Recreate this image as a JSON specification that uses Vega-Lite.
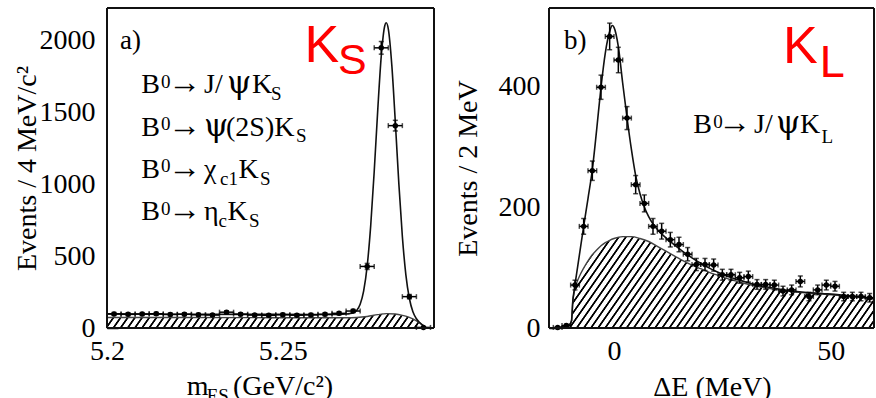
{
  "$schema": "https://vega.github.io/schema/vega-lite/v6.json",
  "autosize": {"type": "pad"},
  "padding": {"left": 13, "top": 7, "right": 0, "bottom": 0},
  "background": "white",
  "bounds": "flush",
  "spacing": 115,
  "config": {
    "view": {"stroke": null},
    "font": "Liberation Serif",
    "text": {"color": "#000", "font": "Liberation Serif"},
    "axis": {"labelFont": "Liberation Serif", "labelFontSize": 28, "labelColor": "#000", "titleFont": "Liberation Serif", "titleFontSize": 28, "titleFontWeight": "normal", "titleColor": "#000", "domain": false, "grid": false, "tickColor": "#000", "tickWidth": 1.5, "labelFlush": false, "labelOverlap": false, "zindex": 1}
  },
  "datasets": {
    "ptsL": [
      {"m":5.202,"n":98,"lo":88,"hi":108,"m0":5.200,"m1":5.204},
      {"m":5.206,"n":95,"lo":85,"hi":105,"m0":5.204,"m1":5.208},
      {"m":5.210,"n":97,"lo":87,"hi":107,"m0":5.208,"m1":5.212},
      {"m":5.214,"n":99,"lo":89,"hi":109,"m0":5.212,"m1":5.216},
      {"m":5.218,"n":94,"lo":84,"hi":104,"m0":5.216,"m1":5.220},
      {"m":5.222,"n":96,"lo":86,"hi":106,"m0":5.220,"m1":5.224},
      {"m":5.226,"n":92,"lo":82,"hi":102,"m0":5.224,"m1":5.228},
      {"m":5.230,"n":90,"lo":81,"hi":99,"m0":5.228,"m1":5.232},
      {"m":5.234,"n":110,"lo":100,"hi":120,"m0":5.232,"m1":5.236},
      {"m":5.238,"n":96,"lo":86,"hi":106,"m0":5.236,"m1":5.240},
      {"m":5.242,"n":90,"lo":81,"hi":99,"m0":5.240,"m1":5.244},
      {"m":5.246,"n":88,"lo":79,"hi":97,"m0":5.244,"m1":5.248},
      {"m":5.250,"n":92,"lo":82,"hi":102,"m0":5.248,"m1":5.252},
      {"m":5.254,"n":89,"lo":80,"hi":98,"m0":5.252,"m1":5.256},
      {"m":5.258,"n":91,"lo":81,"hi":101,"m0":5.256,"m1":5.260},
      {"m":5.262,"n":95,"lo":85,"hi":105,"m0":5.260,"m1":5.264},
      {"m":5.266,"n":102,"lo":92,"hi":112,"m0":5.264,"m1":5.268},
      {"m":5.270,"n":118,"lo":107,"hi":129,"m0":5.268,"m1":5.272},
      {"m":5.274,"n":428,"lo":407,"hi":449,"m0":5.272,"m1":5.276},
      {"m":5.278,"n":1948,"lo":1904,"hi":1992,"m0":5.276,"m1":5.280},
      {"m":5.282,"n":1407,"lo":1370,"hi":1444,"m0":5.280,"m1":5.284},
      {"m":5.286,"n":218,"lo":203,"hi":233,"m0":5.284,"m1":5.288},
      {"m":5.290,"n":4,"lo":2,"hi":6,"m0":5.288,"m1":5.292}
    ],
    "fitL": [
      {"m":5.200,"t":98},{"m":5.220,"t":96},{"m":5.240,"t":95},{"m":5.260,"t":94},{"m":5.266,"t":95},
      {"m":5.268,"t":97},{"m":5.269,"t":100},{"m":5.270,"t":106},{"m":5.271,"t":122},{"m":5.272,"t":165},
      {"m":5.273,"t":258},{"m":5.274,"t":432},{"m":5.275,"t":712},{"m":5.276,"t":1090},{"m":5.277,"t":1515},
      {"m":5.278,"t":1890},{"m":5.279,"t":2102},{"m":5.2794,"t":2122},{"m":5.280,"t":2080},{"m":5.281,"t":1828},
      {"m":5.282,"t":1432},{"m":5.283,"t":1004},{"m":5.284,"t":636},{"m":5.285,"t":370},{"m":5.286,"t":205},
      {"m":5.287,"t":113},{"m":5.288,"t":64},{"m":5.289,"t":36},{"m":5.290,"t":15},{"m":5.2905,"t":5},{"m":5.291,"t":0}
    ],
    "bkgL": [
      {"m":5.200,"b":73},{"m":5.220,"b":73},{"m":5.240,"b":72},{"m":5.260,"b":71},{"m":5.268,"b":71},
      {"m":5.271,"b":73},{"m":5.274,"b":80},{"m":5.277,"b":93},{"m":5.2795,"b":100},{"m":5.282,"b":97},
      {"m":5.284,"b":88},{"m":5.286,"b":74},{"m":5.287,"b":63},{"m":5.288,"b":50},{"m":5.289,"b":35},
      {"m":5.290,"b":17},{"m":5.2905,"b":6},{"m":5.291,"b":0},{"m":5.293,"b":0}
    ],
    "ptsR": [
      {"e":-13,"n":1,"lo":0,"hi":2,"e0":-14,"e1":-12},
      {"e":-11,"n":4,"lo":2,"hi":6,"e0":-12,"e1":-10},
      {"e":-9,"n":71,"lo":63,"hi":79,"e0":-10,"e1":-8},
      {"e":-7,"n":168,"lo":155,"hi":181,"e0":-8,"e1":-6},
      {"e":-5,"n":260,"lo":244,"hi":276,"e0":-6,"e1":-4},
      {"e":-3,"n":398,"lo":378,"hi":418,"e0":-4,"e1":-2},
      {"e":-1,"n":482,"lo":460,"hi":504,"e0":-2,"e1":0},
      {"e":1,"n":443,"lo":422,"hi":464,"e0":0,"e1":2},
      {"e":3,"n":347,"lo":328,"hi":366,"e0":2,"e1":4},
      {"e":5,"n":237,"lo":222,"hi":252,"e0":4,"e1":6},
      {"e":7,"n":206,"lo":192,"hi":220,"e0":6,"e1":8},
      {"e":9,"n":168,"lo":155,"hi":181,"e0":8,"e1":10},
      {"e":11,"n":160,"lo":147,"hi":173,"e0":10,"e1":12},
      {"e":13,"n":146,"lo":134,"hi":158,"e0":12,"e1":14},
      {"e":15,"n":138,"lo":126,"hi":150,"e0":14,"e1":16},
      {"e":17,"n":122,"lo":111,"hi":133,"e0":16,"e1":18},
      {"e":19,"n":105,"lo":95,"hi":115,"e0":18,"e1":20},
      {"e":21,"n":105,"lo":95,"hi":115,"e0":20,"e1":22},
      {"e":23,"n":104,"lo":94,"hi":114,"e0":22,"e1":24},
      {"e":25,"n":88,"lo":79,"hi":97,"e0":24,"e1":26},
      {"e":27,"n":88,"lo":79,"hi":97,"e0":26,"e1":28},
      {"e":29,"n":83,"lo":74,"hi":92,"e0":28,"e1":30},
      {"e":31,"n":85,"lo":76,"hi":94,"e0":30,"e1":32},
      {"e":33,"n":72,"lo":64,"hi":80,"e0":32,"e1":34},
      {"e":35,"n":72,"lo":64,"hi":80,"e0":34,"e1":36},
      {"e":37,"n":71,"lo":63,"hi":79,"e0":36,"e1":38},
      {"e":39,"n":61,"lo":53,"hi":69,"e0":38,"e1":40},
      {"e":41,"n":63,"lo":55,"hi":71,"e0":40,"e1":42},
      {"e":43,"n":77,"lo":68,"hi":86,"e0":42,"e1":44},
      {"e":45,"n":52,"lo":45,"hi":59,"e0":44,"e1":46},
      {"e":47,"n":63,"lo":55,"hi":71,"e0":46,"e1":48},
      {"e":49,"n":71,"lo":63,"hi":79,"e0":48,"e1":50},
      {"e":51,"n":69,"lo":61,"hi":77,"e0":50,"e1":52},
      {"e":53,"n":52,"lo":45,"hi":59,"e0":52,"e1":54},
      {"e":55,"n":52,"lo":45,"hi":59,"e0":54,"e1":56},
      {"e":57,"n":52,"lo":45,"hi":59,"e0":56,"e1":58},
      {"e":59,"n":50,"lo":43,"hi":57,"e0":58,"e1":60}
    ],
    "fitR": [
      {"e":-15,"t":0},{"e":-13,"t":0.5},{"e":-12,"t":1.5},{"e":-11,"t":3},{"e":-10.2,"t":6},{"e":-9.8,"t":12},
      {"e":-9.5,"t":45},{"e":-9.2,"t":62},{"e":-9,"t":72},{"e":-8,"t":120},{"e":-7,"t":168},{"e":-6,"t":214},
      {"e":-5,"t":262},{"e":-4,"t":328},{"e":-3,"t":398},{"e":-2,"t":455},{"e":-1,"t":490},{"e":-0.4,"t":500},
      {"e":0,"t":497},{"e":1,"t":465},{"e":2,"t":405},{"e":3,"t":348},{"e":4,"t":296},{"e":5,"t":252},
      {"e":6,"t":222},{"e":7,"t":200},{"e":8,"t":184},{"e":9,"t":172},{"e":10,"t":163},{"e":12,"t":149},
      {"e":14,"t":137},{"e":16,"t":126},{"e":18,"t":116},{"e":20,"t":107},{"e":22,"t":99},{"e":24,"t":92},
      {"e":26,"t":86},{"e":28,"t":81},{"e":30,"t":77},{"e":33,"t":71},{"e":36,"t":67},{"e":40,"t":62},
      {"e":44,"t":59},{"e":48,"t":57},{"e":52,"t":55},{"e":56,"t":52},{"e":60,"t":49}
    ],
    "bkgR": [
      {"e":-15,"b":0},{"e":-13,"b":0.5},{"e":-12,"b":1.5},{"e":-11,"b":3},{"e":-10.2,"b":6},{"e":-9.8,"b":12},
      {"e":-9.5,"b":45},{"e":-9.2,"b":58},{"e":-9,"b":65},{"e":-8,"b":85},{"e":-7,"b":99},{"e":-6,"b":111},
      {"e":-5,"b":121},{"e":-4,"b":129},{"e":-3,"b":136},{"e":-2,"b":141},{"e":-1,"b":145},{"e":0,"b":148},
      {"e":2,"b":151},{"e":4,"b":151},{"e":6,"b":148},{"e":8,"b":143},{"e":10,"b":135},{"e":12,"b":127},
      {"e":14,"b":119},{"e":16,"b":111},{"e":18,"b":104},{"e":20,"b":98},{"e":22,"b":92},{"e":24,"b":87},
      {"e":26,"b":82},{"e":28,"b":78},{"e":30,"b":74},{"e":33,"b":69},{"e":36,"b":65},{"e":40,"b":61},
      {"e":44,"b":58},{"e":48,"b":56},{"e":52,"b":54},{"e":56,"b":51},{"e":60,"b":48}
    ]
  },
  "hconcat": [
    {
      "width": 327,
      "height": 320,
      "layer": [
        {"data": {"values": [{}]},
         "mark": {"type": "rect", "fill": {
          "gradient": "linear", "x1": 0, "y1": 0, "x2": 1.1459, "y2": 0.7873,
          "stops": [
            {"offset":0,"color":"#fff"},{"offset":0.0015,"color":"#000"},{"offset":0.004,"color":"#000"},{"offset":0.0055,"color":"#fff"},
            {"offset":0.013,"color":"#fff"},{"offset":0.0145,"color":"#000"},{"offset":0.017,"color":"#000"},{"offset":0.0185,"color":"#fff"},
            {"offset":0.026,"color":"#fff"},{"offset":0.0275,"color":"#000"},{"offset":0.03,"color":"#000"},{"offset":0.0315,"color":"#fff"},
            {"offset":0.039,"color":"#fff"},{"offset":0.0405,"color":"#000"},{"offset":0.043,"color":"#000"},{"offset":0.0445,"color":"#fff"},
            {"offset":0.052,"color":"#fff"},{"offset":0.0535,"color":"#000"},{"offset":0.056,"color":"#000"},{"offset":0.0575,"color":"#fff"},
            {"offset":0.065,"color":"#fff"},{"offset":0.0665,"color":"#000"},{"offset":0.069,"color":"#000"},{"offset":0.0705,"color":"#fff"},
            {"offset":0.078,"color":"#fff"},{"offset":0.0795,"color":"#000"},{"offset":0.082,"color":"#000"},{"offset":0.0835,"color":"#fff"},
            {"offset":0.091,"color":"#fff"},{"offset":0.0925,"color":"#000"},{"offset":0.095,"color":"#000"},{"offset":0.0965,"color":"#fff"},
            {"offset":0.104,"color":"#fff"},{"offset":0.1055,"color":"#000"},{"offset":0.108,"color":"#000"},{"offset":0.1095,"color":"#fff"},
            {"offset":0.117,"color":"#fff"},{"offset":0.1185,"color":"#000"},{"offset":0.121,"color":"#000"},{"offset":0.1225,"color":"#fff"},
            {"offset":0.13,"color":"#fff"},{"offset":0.1315,"color":"#000"},{"offset":0.134,"color":"#000"},{"offset":0.1355,"color":"#fff"},
            {"offset":0.143,"color":"#fff"},{"offset":0.1445,"color":"#000"},{"offset":0.147,"color":"#000"},{"offset":0.1485,"color":"#fff"},
            {"offset":0.156,"color":"#fff"},{"offset":0.1575,"color":"#000"},{"offset":0.16,"color":"#000"},{"offset":0.1615,"color":"#fff"},
            {"offset":0.169,"color":"#fff"},{"offset":0.1705,"color":"#000"},{"offset":0.173,"color":"#000"},{"offset":0.1745,"color":"#fff"},
            {"offset":0.182,"color":"#fff"},{"offset":0.1835,"color":"#000"},{"offset":0.186,"color":"#000"},{"offset":0.1875,"color":"#fff"},
            {"offset":0.195,"color":"#fff"},{"offset":0.1965,"color":"#000"},{"offset":0.199,"color":"#000"},{"offset":0.2005,"color":"#fff"},
            {"offset":0.208,"color":"#fff"},{"offset":0.2095,"color":"#000"},{"offset":0.212,"color":"#000"},{"offset":0.2135,"color":"#fff"},
            {"offset":0.221,"color":"#fff"},{"offset":0.2225,"color":"#000"},{"offset":0.225,"color":"#000"},{"offset":0.2265,"color":"#fff"},
            {"offset":0.234,"color":"#fff"},{"offset":0.2355,"color":"#000"},{"offset":0.238,"color":"#000"},{"offset":0.2395,"color":"#fff"},
            {"offset":0.247,"color":"#fff"},{"offset":0.2485,"color":"#000"},{"offset":0.251,"color":"#000"},{"offset":0.2525,"color":"#fff"},
            {"offset":0.26,"color":"#fff"},{"offset":0.2615,"color":"#000"},{"offset":0.264,"color":"#000"},{"offset":0.2655,"color":"#fff"},
            {"offset":0.273,"color":"#fff"},{"offset":0.2745,"color":"#000"},{"offset":0.277,"color":"#000"},{"offset":0.2785,"color":"#fff"},
            {"offset":0.286,"color":"#fff"},{"offset":0.2875,"color":"#000"},{"offset":0.29,"color":"#000"},{"offset":0.2915,"color":"#fff"},
            {"offset":0.299,"color":"#fff"},{"offset":0.3005,"color":"#000"},{"offset":0.303,"color":"#000"},{"offset":0.3045,"color":"#fff"},
            {"offset":0.312,"color":"#fff"},{"offset":0.3135,"color":"#000"},{"offset":0.316,"color":"#000"},{"offset":0.3175,"color":"#fff"},
            {"offset":0.325,"color":"#fff"},{"offset":0.3265,"color":"#000"},{"offset":0.329,"color":"#000"},{"offset":0.3305,"color":"#fff"},
            {"offset":0.338,"color":"#fff"},{"offset":0.3395,"color":"#000"},{"offset":0.342,"color":"#000"},{"offset":0.3435,"color":"#fff"},
            {"offset":0.351,"color":"#fff"},{"offset":0.3525,"color":"#000"},{"offset":0.355,"color":"#000"},{"offset":0.3565,"color":"#fff"},
            {"offset":0.364,"color":"#fff"},{"offset":0.3655,"color":"#000"},{"offset":0.368,"color":"#000"},{"offset":0.3695,"color":"#fff"},
            {"offset":0.377,"color":"#fff"},{"offset":0.3785,"color":"#000"},{"offset":0.381,"color":"#000"},{"offset":0.3825,"color":"#fff"},
            {"offset":0.39,"color":"#fff"},{"offset":0.3915,"color":"#000"},{"offset":0.394,"color":"#000"},{"offset":0.3955,"color":"#fff"},
            {"offset":0.403,"color":"#fff"},{"offset":0.4045,"color":"#000"},{"offset":0.407,"color":"#000"},{"offset":0.4085,"color":"#fff"},
            {"offset":0.416,"color":"#fff"},{"offset":0.4175,"color":"#000"},{"offset":0.42,"color":"#000"},{"offset":0.4215,"color":"#fff"},
            {"offset":0.429,"color":"#fff"},{"offset":0.4305,"color":"#000"},{"offset":0.433,"color":"#000"},{"offset":0.4345,"color":"#fff"},
            {"offset":0.442,"color":"#fff"},{"offset":0.4435,"color":"#000"},{"offset":0.446,"color":"#000"},{"offset":0.4475,"color":"#fff"},
            {"offset":0.455,"color":"#fff"},{"offset":0.4565,"color":"#000"},{"offset":0.459,"color":"#000"},{"offset":0.4605,"color":"#fff"},
            {"offset":0.468,"color":"#fff"},{"offset":0.4695,"color":"#000"},{"offset":0.472,"color":"#000"},{"offset":0.4735,"color":"#fff"},
            {"offset":0.481,"color":"#fff"},{"offset":0.4825,"color":"#000"},{"offset":0.485,"color":"#000"},{"offset":0.4865,"color":"#fff"},
            {"offset":0.494,"color":"#fff"},{"offset":0.4955,"color":"#000"},{"offset":0.498,"color":"#000"},{"offset":0.4995,"color":"#fff"},
            {"offset":0.507,"color":"#fff"},{"offset":0.5085,"color":"#000"},{"offset":0.511,"color":"#000"},{"offset":0.5125,"color":"#fff"},
            {"offset":0.52,"color":"#fff"},{"offset":0.5215,"color":"#000"},{"offset":0.524,"color":"#000"},{"offset":0.5255,"color":"#fff"},
            {"offset":0.533,"color":"#fff"},{"offset":0.5345,"color":"#000"},{"offset":0.537,"color":"#000"},{"offset":0.5385,"color":"#fff"},
            {"offset":0.546,"color":"#fff"},{"offset":0.5475,"color":"#000"},{"offset":0.55,"color":"#000"},{"offset":0.5515,"color":"#fff"},
            {"offset":0.559,"color":"#fff"},{"offset":0.5605,"color":"#000"},{"offset":0.563,"color":"#000"},{"offset":0.5645,"color":"#fff"},
            {"offset":0.572,"color":"#fff"},{"offset":0.5735,"color":"#000"},{"offset":0.576,"color":"#000"},{"offset":0.5775,"color":"#fff"},
            {"offset":0.585,"color":"#fff"},{"offset":0.5865,"color":"#000"},{"offset":0.589,"color":"#000"},{"offset":0.5905,"color":"#fff"},
            {"offset":0.598,"color":"#fff"},{"offset":0.5995,"color":"#000"},{"offset":0.602,"color":"#000"},{"offset":0.6035,"color":"#fff"},
            {"offset":0.611,"color":"#fff"},{"offset":0.6125,"color":"#000"},{"offset":0.615,"color":"#000"},{"offset":0.6165,"color":"#fff"},
            {"offset":0.624,"color":"#fff"},{"offset":0.6255,"color":"#000"},{"offset":0.628,"color":"#000"},{"offset":0.6295,"color":"#fff"},
            {"offset":0.637,"color":"#fff"},{"offset":0.6385,"color":"#000"},{"offset":0.641,"color":"#000"},{"offset":0.6425,"color":"#fff"},
            {"offset":0.65,"color":"#fff"},{"offset":0.6515,"color":"#000"},{"offset":0.654,"color":"#000"},{"offset":0.6555,"color":"#fff"},
            {"offset":0.663,"color":"#fff"},{"offset":0.6645,"color":"#000"},{"offset":0.667,"color":"#000"},{"offset":0.6685,"color":"#fff"},
            {"offset":0.676,"color":"#fff"},{"offset":0.6775,"color":"#000"},{"offset":0.68,"color":"#000"},{"offset":0.6815,"color":"#fff"},
            {"offset":0.689,"color":"#fff"},{"offset":0.6905,"color":"#000"},{"offset":0.693,"color":"#000"},{"offset":0.6945,"color":"#fff"},
            {"offset":0.702,"color":"#fff"},{"offset":0.7035,"color":"#000"},{"offset":0.706,"color":"#000"},{"offset":0.7075,"color":"#fff"},
            {"offset":0.715,"color":"#fff"},{"offset":0.7165,"color":"#000"},{"offset":0.719,"color":"#000"},{"offset":0.7205,"color":"#fff"},
            {"offset":0.728,"color":"#fff"},{"offset":0.7295,"color":"#000"},{"offset":0.732,"color":"#000"},{"offset":0.7335,"color":"#fff"},
            {"offset":0.741,"color":"#fff"},{"offset":0.7425,"color":"#000"},{"offset":0.745,"color":"#000"},{"offset":0.7465,"color":"#fff"},
            {"offset":0.754,"color":"#fff"},{"offset":0.7555,"color":"#000"},{"offset":0.758,"color":"#000"},{"offset":0.7595,"color":"#fff"},
            {"offset":0.767,"color":"#fff"},{"offset":0.7685,"color":"#000"},{"offset":0.771,"color":"#000"},{"offset":0.7725,"color":"#fff"},
            {"offset":0.78,"color":"#fff"},{"offset":0.7815,"color":"#000"},{"offset":0.784,"color":"#000"},{"offset":0.7855,"color":"#fff"},
            {"offset":0.793,"color":"#fff"},{"offset":0.7945,"color":"#000"},{"offset":0.797,"color":"#000"},{"offset":0.7985,"color":"#fff"},
            {"offset":0.806,"color":"#fff"},{"offset":0.8075,"color":"#000"},{"offset":0.81,"color":"#000"},{"offset":0.8115,"color":"#fff"},
            {"offset":0.819,"color":"#fff"},{"offset":0.8205,"color":"#000"},{"offset":0.823,"color":"#000"},{"offset":0.8245,"color":"#fff"},
            {"offset":0.832,"color":"#fff"},{"offset":0.8335,"color":"#000"},{"offset":0.836,"color":"#000"},{"offset":0.8375,"color":"#fff"},
            {"offset":0.845,"color":"#fff"},{"offset":0.8465,"color":"#000"},{"offset":0.849,"color":"#000"},{"offset":0.8505,"color":"#fff"},
            {"offset":0.858,"color":"#fff"},{"offset":0.8595,"color":"#000"},{"offset":0.862,"color":"#000"},{"offset":0.8635,"color":"#fff"},
            {"offset":0.871,"color":"#fff"},{"offset":0.8725,"color":"#000"},{"offset":0.875,"color":"#000"},{"offset":0.8765,"color":"#fff"},
            {"offset":0.884,"color":"#fff"},{"offset":0.8855,"color":"#000"},{"offset":0.888,"color":"#000"},{"offset":0.8895,"color":"#fff"},
            {"offset":0.897,"color":"#fff"},{"offset":0.8985,"color":"#000"},{"offset":0.901,"color":"#000"},{"offset":0.9025,"color":"#fff"},
            {"offset":0.91,"color":"#fff"},{"offset":0.9115,"color":"#000"},{"offset":0.914,"color":"#000"},{"offset":0.9155,"color":"#fff"},
            {"offset":0.923,"color":"#fff"},{"offset":0.9245,"color":"#000"},{"offset":0.927,"color":"#000"},{"offset":0.9285,"color":"#fff"},
            {"offset":0.936,"color":"#fff"},{"offset":0.9375,"color":"#000"},{"offset":0.94,"color":"#000"},{"offset":0.9415,"color":"#fff"},
            {"offset":0.949,"color":"#fff"},{"offset":0.9505,"color":"#000"},{"offset":0.953,"color":"#000"},{"offset":0.9545,"color":"#fff"},
            {"offset":0.962,"color":"#fff"},{"offset":0.9635,"color":"#000"},{"offset":0.966,"color":"#000"},{"offset":0.9675,"color":"#fff"},
            {"offset":0.975,"color":"#fff"},{"offset":0.9765,"color":"#000"},{"offset":0.979,"color":"#000"},{"offset":0.9805,"color":"#fff"},
            {"offset":0.988,"color":"#fff"},{"offset":0.9895,"color":"#000"},{"offset":0.992,"color":"#000"},{"offset":0.9935,"color":"#fff"},
            {"offset":1,"color":"#fff"}
          ]}},
         "encoding": {"x": {"datum": 5.2, "scale": {"domain": [5.2, 5.293], "nice": false, "zero": false}}, "x2": {"datum": 5.293},
                      "y": {"datum": 0, "scale": {"domain": [0, 2225], "nice": false}}, "y2": {"datum": 2225}}},
        {"data": {"name": "bkgL"}, "mark": {"type": "area", "fill": "white", "interpolate": "monotone"},
         "encoding": {"x": {"field": "m", "type": "quantitative", "scale": {"domain": [5.2, 5.293], "nice": false, "zero": false}},
                      "y": {"field": "b", "type": "quantitative", "scale": {"domain": [0, 2225], "nice": false}}, "y2": {"datum": 2225}}},
        {"data": {"name": "bkgL"}, "mark": {"type": "line", "color": "#444", "strokeWidth": 1.4, "interpolate": "monotone"},
         "encoding": {"x": {"field": "m", "type": "quantitative", "scale": {"domain": [5.2, 5.293], "nice": false, "zero": false}},
                      "y": {"field": "b", "type": "quantitative", "scale": {"domain": [0, 2225], "nice": false}}}},
        {"data": {"name": "fitL"}, "mark": {"type": "line", "color": "#111", "strokeWidth": 1.6, "interpolate": "monotone"},
         "encoding": {"x": {"field": "m", "type": "quantitative", "scale": {"domain": [5.2, 5.293], "nice": false, "zero": false}},
                      "y": {"field": "t", "type": "quantitative", "scale": {"domain": [0, 2225], "nice": false}}}},
        {"data": {"name": "ptsL"}, "mark": {"type": "errorbar", "ticks": true, "color": "#000", "thickness": 1.5},
         "encoding": {"x": {"field": "m", "type": "quantitative", "title": null, "scale": {"domain": [5.2, 5.293], "nice": false, "zero": false}},
                      "y": {"field": "lo", "type": "quantitative", "title": "Events / 4 MeV/c²", "scale": {"domain": [0, 2225], "nice": false}}, "y2": {"field": "hi"}}},
        {"data": {"name": "ptsL"}, "mark": {"type": "errorbar", "ticks": true, "color": "#000", "thickness": 1.5},
         "encoding": {"y": {"field": "n", "type": "quantitative", "title": "Events / 4 MeV/c²", "scale": {"domain": [0, 2225], "nice": false}},
                      "x": {"field": "m0", "type": "quantitative", "title": null, "scale": {"domain": [5.2, 5.293], "nice": false, "zero": false}}, "x2": {"field": "m1"}}},
        {"data": {"name": "ptsL"}, "mark": {"type": "point", "filled": true, "color": "#000", "size": 30, "opacity": 1},
         "encoding": {
           "x": {"field": "m", "type": "quantitative", "scale": {"domain": [5.2, 5.293], "nice": false, "zero": false},
                 "axis": {"values": [5.2, 5.25], "format": ".2~f", "tickSize": -9, "labelPadding": 18, "title": null}},
           "y": {"field": "n", "type": "quantitative", "scale": {"domain": [0, 2225], "nice": false},
                 "axis": {"values": [0, 250, 500, 750, 1000, 1250, 1500, 1750, 2000], "format": "d",
                          "labelExpr": "datum.value % 500 === 0 ? datum.label : ''",
                          "tickSize": {"condition": {"test": "datum.value % 500 === 0", "value": -11}, "value": -6},
                          "labelPadding": 23, "title": "Events / 4 MeV/c²", "titleX": -72, "titleY": 160, "titleAlign": "center", "titleBaseline": "alphabetic"}}}},
        {"data": {"values": [{}]}, "mark": {"type": "rule", "color": "#111", "strokeWidth": 2},
         "encoding": {"y": {"datum": 2225, "scale": {"domain": [0, 2225], "nice": false}}}},
        {"data": {"values": [{}]}, "mark": {"type": "rule", "color": "#111", "strokeWidth": 2},
         "encoding": {"y": {"datum": 0, "scale": {"domain": [0, 2225], "nice": false}}}},
        {"data": {"values": [{}]}, "mark": {"type": "rule", "color": "#111", "strokeWidth": 2},
         "encoding": {"x": {"datum": 5.2, "scale": {"domain": [5.2, 5.293], "nice": false, "zero": false}}}},
        {"data": {"values": [{}]}, "mark": {"type": "rule", "color": "#111", "strokeWidth": 2},
         "encoding": {"x": {"datum": 5.293, "scale": {"domain": [5.2, 5.293], "nice": false, "zero": false}}}},
        {"data": {"values": [{}]}, "mark": {"type": "text", "text": "a)", "fontSize": 27, "align": "left", "baseline": "alphabetic"},
         "encoding": {"x": {"datum": 5.2037, "scale": {"domain": [5.2, 5.293], "nice": false, "zero": false}}, "y": {"datum": 1940, "scale": {"domain": [0, 2225], "nice": false}}}},
        {"data": {"values": [{}]}, "mark": {"type": "text", "text": ["B", "B", "B", "B"], "lineHeight": 42.3, "fontSize": 28, "align": "left", "baseline": "alphabetic"},
         "encoding": {"x": {"datum": 5.20973, "scale": {"domain": [5.2, 5.293], "nice": false, "zero": false}}, "y": {"datum": 1632, "scale": {"domain": [0, 2225], "nice": false}}}},
        {"data": {"values": [{}]}, "mark": {"type": "text", "text": ["0", "0", "0", "0"], "lineHeight": 42.3, "fontSize": 19, "align": "left", "baseline": "alphabetic"},
         "encoding": {"x": {"datum": 5.21536, "scale": {"domain": [5.2, 5.293], "nice": false, "zero": false}}, "y": {"datum": 1670, "scale": {"domain": [0, 2225], "nice": false}}}},
        {"data": {"values": [{}]}, "mark": {"type": "text", "text": ["→", "→", "→", "→"], "lineHeight": 42.3, "fontSize": 33, "align": "left", "baseline": "alphabetic"},
         "encoding": {"x": {"datum": 5.21735, "scale": {"domain": [5.2, 5.293], "nice": false, "zero": false}}, "y": {"datum": 1632, "scale": {"domain": [0, 2225], "nice": false}}}},
        {"data": {"values": [{}]}, "mark": {"type": "text", "text": "J/", "fontSize": 28, "align": "left", "baseline": "alphabetic"},
         "encoding": {"x": {"datum": 5.22759, "scale": {"domain": [5.2, 5.293], "nice": false, "zero": false}}, "y": {"datum": 1632, "scale": {"domain": [0, 2225], "nice": false}}}},
        {"data": {"values": [{}]}, "mark": {"type": "text", "text": "ψ", "font": "DejaVu Serif", "fontSize": 31, "align": "left", "baseline": "alphabetic"},
         "encoding": {"x": {"datum": 5.23413, "scale": {"domain": [5.2, 5.293], "nice": false, "zero": false}}, "y": {"datum": 1632, "scale": {"domain": [0, 2225], "nice": false}}}},
        {"data": {"values": [{}]}, "mark": {"type": "text", "text": "K", "fontSize": 28, "align": "left", "baseline": "alphabetic"},
         "encoding": {"x": {"datum": 5.24124, "scale": {"domain": [5.2, 5.293], "nice": false, "zero": false}}, "y": {"datum": 1632, "scale": {"domain": [0, 2225], "nice": false}}}},
        {"data": {"values": [{}]}, "mark": {"type": "text", "text": "S", "fontSize": 19, "align": "left", "baseline": "alphabetic"},
         "encoding": {"x": {"datum": 5.24664, "scale": {"domain": [5.2, 5.293], "nice": false, "zero": false}}, "y": {"datum": 1585, "scale": {"domain": [0, 2225], "nice": false}}}},
        {"data": {"values": [{}]}, "mark": {"type": "text", "text": "ψ", "font": "DejaVu Serif", "fontSize": 31, "align": "left", "baseline": "alphabetic"},
         "encoding": {"x": {"datum": 5.22759, "scale": {"domain": [5.2, 5.293], "nice": false, "zero": false}}, "y": {"datum": 1338, "scale": {"domain": [0, 2225], "nice": false}}}},
        {"data": {"values": [{}]}, "mark": {"type": "text", "text": "(2S)K", "fontSize": 28, "align": "left", "baseline": "alphabetic"},
         "encoding": {"x": {"datum": 5.23385, "scale": {"domain": [5.2, 5.293], "nice": false, "zero": false}}, "y": {"datum": 1338, "scale": {"domain": [0, 2225], "nice": false}}}},
        {"data": {"values": [{}]}, "mark": {"type": "text", "text": "S", "fontSize": 19, "align": "left", "baseline": "alphabetic"},
         "encoding": {"x": {"datum": 5.25375, "scale": {"domain": [5.2, 5.293], "nice": false, "zero": false}}, "y": {"datum": 1291, "scale": {"domain": [0, 2225], "nice": false}}}},
        {"data": {"values": [{}]}, "mark": {"type": "text", "text": ["χ", "η"], "lineHeight": 42.3, "fontSize": 28, "align": "left", "baseline": "alphabetic"},
         "encoding": {"x": {"datum": 5.22759, "scale": {"domain": [5.2, 5.293], "nice": false, "zero": false}}, "y": {"datum": 1043, "scale": {"domain": [0, 2225], "nice": false}}}},
        {"data": {"values": [{}]}, "mark": {"type": "text", "text": "c1", "fontSize": 19, "align": "left", "baseline": "alphabetic"},
         "encoding": {"x": {"datum": 5.23214, "scale": {"domain": [5.2, 5.293], "nice": false, "zero": false}}, "y": {"datum": 996, "scale": {"domain": [0, 2225], "nice": false}}}},
        {"data": {"values": [{}]}, "mark": {"type": "text", "text": "K", "fontSize": 28, "align": "left", "baseline": "alphabetic"},
         "encoding": {"x": {"datum": 5.2374, "scale": {"domain": [5.2, 5.293], "nice": false, "zero": false}}, "y": {"datum": 1043, "scale": {"domain": [0, 2225], "nice": false}}}},
        {"data": {"values": [{}]}, "mark": {"type": "text", "text": "S", "fontSize": 19, "align": "left", "baseline": "alphabetic"},
         "encoding": {"x": {"datum": 5.24352, "scale": {"domain": [5.2, 5.293], "nice": false, "zero": false}}, "y": {"datum": 996, "scale": {"domain": [0, 2225], "nice": false}}}},
        {"data": {"values": [{}]}, "mark": {"type": "text", "text": "c", "fontSize": 19, "align": "left", "baseline": "alphabetic"},
         "encoding": {"x": {"datum": 5.23171, "scale": {"domain": [5.2, 5.293], "nice": false, "zero": false}}, "y": {"datum": 704, "scale": {"domain": [0, 2225], "nice": false}}}},
        {"data": {"values": [{}]}, "mark": {"type": "text", "text": "K", "fontSize": 28, "align": "left", "baseline": "alphabetic"},
         "encoding": {"x": {"datum": 5.23427, "scale": {"domain": [5.2, 5.293], "nice": false, "zero": false}}, "y": {"datum": 751, "scale": {"domain": [0, 2225], "nice": false}}}},
        {"data": {"values": [{}]}, "mark": {"type": "text", "text": "S", "fontSize": 19, "align": "left", "baseline": "alphabetic"},
         "encoding": {"x": {"datum": 5.24039, "scale": {"domain": [5.2, 5.293], "nice": false, "zero": false}}, "y": {"datum": 704, "scale": {"domain": [0, 2225], "nice": false}}}},
        {"data": {"values": [{}]}, "mark": {"type": "text", "text": "K", "font": "Liberation Sans", "fontSize": 52, "color": "#ff0000", "align": "left", "baseline": "alphabetic"},
         "encoding": {"x": {"datum": 5.25617, "scale": {"domain": [5.2, 5.293], "nice": false, "zero": false}}, "y": {"datum": 1852, "scale": {"domain": [0, 2225], "nice": false}}}},
        {"data": {"values": [{}]}, "mark": {"type": "text", "text": "S", "font": "Liberation Sans", "fontSize": 43, "color": "#ff0000", "align": "left", "baseline": "alphabetic"},
         "encoding": {"x": {"datum": 5.26571, "scale": {"domain": [5.2, 5.293], "nice": false, "zero": false}}, "y": {"datum": 1766, "scale": {"domain": [0, 2225], "nice": false}}}},
        {"data": {"values": [{}]}, "mark": {"type": "text", "text": "m", "fontSize": 28, "align": "left", "baseline": "alphabetic"},
         "encoding": {"x": {"datum": 5.22267, "scale": {"domain": [5.2, 5.293], "nice": false, "zero": false}}, "y": {"datum": -466, "scale": {"domain": [0, 2225], "nice": false}}}},
        {"data": {"values": [{}]}, "mark": {"type": "text", "text": "ES", "fontSize": 19, "align": "left", "baseline": "alphabetic"},
         "encoding": {"x": {"datum": 5.22835, "scale": {"domain": [5.2, 5.293], "nice": false, "zero": false}}, "y": {"datum": -515, "scale": {"domain": [0, 2225], "nice": false}}}},
        {"data": {"values": [{}]}, "mark": {"type": "text", "text": "(GeV/c²)", "fontSize": 28, "align": "left", "baseline": "alphabetic"},
         "encoding": {"x": {"datum": 5.23584, "scale": {"domain": [5.2, 5.293], "nice": false, "zero": false}}, "y": {"datum": -466, "scale": {"domain": [0, 2225], "nice": false}}}}
      ]
    },
    {
      "width": 325,
      "height": 320,
      "layer": [
        {"data": {"values": [{}]},
         "mark": {"type": "rect", "fill": {
          "gradient": "linear", "x1": 0, "y1": 0, "x2": 1.1459, "y2": 0.7873,
          "stops": [
            {"offset":0,"color":"#fff"},{"offset":0.0015,"color":"#000"},{"offset":0.004,"color":"#000"},{"offset":0.0055,"color":"#fff"},
            {"offset":0.013,"color":"#fff"},{"offset":0.0145,"color":"#000"},{"offset":0.017,"color":"#000"},{"offset":0.0185,"color":"#fff"},
            {"offset":0.026,"color":"#fff"},{"offset":0.0275,"color":"#000"},{"offset":0.03,"color":"#000"},{"offset":0.0315,"color":"#fff"},
            {"offset":0.039,"color":"#fff"},{"offset":0.0405,"color":"#000"},{"offset":0.043,"color":"#000"},{"offset":0.0445,"color":"#fff"},
            {"offset":0.052,"color":"#fff"},{"offset":0.0535,"color":"#000"},{"offset":0.056,"color":"#000"},{"offset":0.0575,"color":"#fff"},
            {"offset":0.065,"color":"#fff"},{"offset":0.0665,"color":"#000"},{"offset":0.069,"color":"#000"},{"offset":0.0705,"color":"#fff"},
            {"offset":0.078,"color":"#fff"},{"offset":0.0795,"color":"#000"},{"offset":0.082,"color":"#000"},{"offset":0.0835,"color":"#fff"},
            {"offset":0.091,"color":"#fff"},{"offset":0.0925,"color":"#000"},{"offset":0.095,"color":"#000"},{"offset":0.0965,"color":"#fff"},
            {"offset":0.104,"color":"#fff"},{"offset":0.1055,"color":"#000"},{"offset":0.108,"color":"#000"},{"offset":0.1095,"color":"#fff"},
            {"offset":0.117,"color":"#fff"},{"offset":0.1185,"color":"#000"},{"offset":0.121,"color":"#000"},{"offset":0.1225,"color":"#fff"},
            {"offset":0.13,"color":"#fff"},{"offset":0.1315,"color":"#000"},{"offset":0.134,"color":"#000"},{"offset":0.1355,"color":"#fff"},
            {"offset":0.143,"color":"#fff"},{"offset":0.1445,"color":"#000"},{"offset":0.147,"color":"#000"},{"offset":0.1485,"color":"#fff"},
            {"offset":0.156,"color":"#fff"},{"offset":0.1575,"color":"#000"},{"offset":0.16,"color":"#000"},{"offset":0.1615,"color":"#fff"},
            {"offset":0.169,"color":"#fff"},{"offset":0.1705,"color":"#000"},{"offset":0.173,"color":"#000"},{"offset":0.1745,"color":"#fff"},
            {"offset":0.182,"color":"#fff"},{"offset":0.1835,"color":"#000"},{"offset":0.186,"color":"#000"},{"offset":0.1875,"color":"#fff"},
            {"offset":0.195,"color":"#fff"},{"offset":0.1965,"color":"#000"},{"offset":0.199,"color":"#000"},{"offset":0.2005,"color":"#fff"},
            {"offset":0.208,"color":"#fff"},{"offset":0.2095,"color":"#000"},{"offset":0.212,"color":"#000"},{"offset":0.2135,"color":"#fff"},
            {"offset":0.221,"color":"#fff"},{"offset":0.2225,"color":"#000"},{"offset":0.225,"color":"#000"},{"offset":0.2265,"color":"#fff"},
            {"offset":0.234,"color":"#fff"},{"offset":0.2355,"color":"#000"},{"offset":0.238,"color":"#000"},{"offset":0.2395,"color":"#fff"},
            {"offset":0.247,"color":"#fff"},{"offset":0.2485,"color":"#000"},{"offset":0.251,"color":"#000"},{"offset":0.2525,"color":"#fff"},
            {"offset":0.26,"color":"#fff"},{"offset":0.2615,"color":"#000"},{"offset":0.264,"color":"#000"},{"offset":0.2655,"color":"#fff"},
            {"offset":0.273,"color":"#fff"},{"offset":0.2745,"color":"#000"},{"offset":0.277,"color":"#000"},{"offset":0.2785,"color":"#fff"},
            {"offset":0.286,"color":"#fff"},{"offset":0.2875,"color":"#000"},{"offset":0.29,"color":"#000"},{"offset":0.2915,"color":"#fff"},
            {"offset":0.299,"color":"#fff"},{"offset":0.3005,"color":"#000"},{"offset":0.303,"color":"#000"},{"offset":0.3045,"color":"#fff"},
            {"offset":0.312,"color":"#fff"},{"offset":0.3135,"color":"#000"},{"offset":0.316,"color":"#000"},{"offset":0.3175,"color":"#fff"},
            {"offset":0.325,"color":"#fff"},{"offset":0.3265,"color":"#000"},{"offset":0.329,"color":"#000"},{"offset":0.3305,"color":"#fff"},
            {"offset":0.338,"color":"#fff"},{"offset":0.3395,"color":"#000"},{"offset":0.342,"color":"#000"},{"offset":0.3435,"color":"#fff"},
            {"offset":0.351,"color":"#fff"},{"offset":0.3525,"color":"#000"},{"offset":0.355,"color":"#000"},{"offset":0.3565,"color":"#fff"},
            {"offset":0.364,"color":"#fff"},{"offset":0.3655,"color":"#000"},{"offset":0.368,"color":"#000"},{"offset":0.3695,"color":"#fff"},
            {"offset":0.377,"color":"#fff"},{"offset":0.3785,"color":"#000"},{"offset":0.381,"color":"#000"},{"offset":0.3825,"color":"#fff"},
            {"offset":0.39,"color":"#fff"},{"offset":0.3915,"color":"#000"},{"offset":0.394,"color":"#000"},{"offset":0.3955,"color":"#fff"},
            {"offset":0.403,"color":"#fff"},{"offset":0.4045,"color":"#000"},{"offset":0.407,"color":"#000"},{"offset":0.4085,"color":"#fff"},
            {"offset":0.416,"color":"#fff"},{"offset":0.4175,"color":"#000"},{"offset":0.42,"color":"#000"},{"offset":0.4215,"color":"#fff"},
            {"offset":0.429,"color":"#fff"},{"offset":0.4305,"color":"#000"},{"offset":0.433,"color":"#000"},{"offset":0.4345,"color":"#fff"},
            {"offset":0.442,"color":"#fff"},{"offset":0.4435,"color":"#000"},{"offset":0.446,"color":"#000"},{"offset":0.4475,"color":"#fff"},
            {"offset":0.455,"color":"#fff"},{"offset":0.4565,"color":"#000"},{"offset":0.459,"color":"#000"},{"offset":0.4605,"color":"#fff"},
            {"offset":0.468,"color":"#fff"},{"offset":0.4695,"color":"#000"},{"offset":0.472,"color":"#000"},{"offset":0.4735,"color":"#fff"},
            {"offset":0.481,"color":"#fff"},{"offset":0.4825,"color":"#000"},{"offset":0.485,"color":"#000"},{"offset":0.4865,"color":"#fff"},
            {"offset":0.494,"color":"#fff"},{"offset":0.4955,"color":"#000"},{"offset":0.498,"color":"#000"},{"offset":0.4995,"color":"#fff"},
            {"offset":0.507,"color":"#fff"},{"offset":0.5085,"color":"#000"},{"offset":0.511,"color":"#000"},{"offset":0.5125,"color":"#fff"},
            {"offset":0.52,"color":"#fff"},{"offset":0.5215,"color":"#000"},{"offset":0.524,"color":"#000"},{"offset":0.5255,"color":"#fff"},
            {"offset":0.533,"color":"#fff"},{"offset":0.5345,"color":"#000"},{"offset":0.537,"color":"#000"},{"offset":0.5385,"color":"#fff"},
            {"offset":0.546,"color":"#fff"},{"offset":0.5475,"color":"#000"},{"offset":0.55,"color":"#000"},{"offset":0.5515,"color":"#fff"},
            {"offset":0.559,"color":"#fff"},{"offset":0.5605,"color":"#000"},{"offset":0.563,"color":"#000"},{"offset":0.5645,"color":"#fff"},
            {"offset":0.572,"color":"#fff"},{"offset":0.5735,"color":"#000"},{"offset":0.576,"color":"#000"},{"offset":0.5775,"color":"#fff"},
            {"offset":0.585,"color":"#fff"},{"offset":0.5865,"color":"#000"},{"offset":0.589,"color":"#000"},{"offset":0.5905,"color":"#fff"},
            {"offset":0.598,"color":"#fff"},{"offset":0.5995,"color":"#000"},{"offset":0.602,"color":"#000"},{"offset":0.6035,"color":"#fff"},
            {"offset":0.611,"color":"#fff"},{"offset":0.6125,"color":"#000"},{"offset":0.615,"color":"#000"},{"offset":0.6165,"color":"#fff"},
            {"offset":0.624,"color":"#fff"},{"offset":0.6255,"color":"#000"},{"offset":0.628,"color":"#000"},{"offset":0.6295,"color":"#fff"},
            {"offset":0.637,"color":"#fff"},{"offset":0.6385,"color":"#000"},{"offset":0.641,"color":"#000"},{"offset":0.6425,"color":"#fff"},
            {"offset":0.65,"color":"#fff"},{"offset":0.6515,"color":"#000"},{"offset":0.654,"color":"#000"},{"offset":0.6555,"color":"#fff"},
            {"offset":0.663,"color":"#fff"},{"offset":0.6645,"color":"#000"},{"offset":0.667,"color":"#000"},{"offset":0.6685,"color":"#fff"},
            {"offset":0.676,"color":"#fff"},{"offset":0.6775,"color":"#000"},{"offset":0.68,"color":"#000"},{"offset":0.6815,"color":"#fff"},
            {"offset":0.689,"color":"#fff"},{"offset":0.6905,"color":"#000"},{"offset":0.693,"color":"#000"},{"offset":0.6945,"color":"#fff"},
            {"offset":0.702,"color":"#fff"},{"offset":0.7035,"color":"#000"},{"offset":0.706,"color":"#000"},{"offset":0.7075,"color":"#fff"},
            {"offset":0.715,"color":"#fff"},{"offset":0.7165,"color":"#000"},{"offset":0.719,"color":"#000"},{"offset":0.7205,"color":"#fff"},
            {"offset":0.728,"color":"#fff"},{"offset":0.7295,"color":"#000"},{"offset":0.732,"color":"#000"},{"offset":0.7335,"color":"#fff"},
            {"offset":0.741,"color":"#fff"},{"offset":0.7425,"color":"#000"},{"offset":0.745,"color":"#000"},{"offset":0.7465,"color":"#fff"},
            {"offset":0.754,"color":"#fff"},{"offset":0.7555,"color":"#000"},{"offset":0.758,"color":"#000"},{"offset":0.7595,"color":"#fff"},
            {"offset":0.767,"color":"#fff"},{"offset":0.7685,"color":"#000"},{"offset":0.771,"color":"#000"},{"offset":0.7725,"color":"#fff"},
            {"offset":0.78,"color":"#fff"},{"offset":0.7815,"color":"#000"},{"offset":0.784,"color":"#000"},{"offset":0.7855,"color":"#fff"},
            {"offset":0.793,"color":"#fff"},{"offset":0.7945,"color":"#000"},{"offset":0.797,"color":"#000"},{"offset":0.7985,"color":"#fff"},
            {"offset":0.806,"color":"#fff"},{"offset":0.8075,"color":"#000"},{"offset":0.81,"color":"#000"},{"offset":0.8115,"color":"#fff"},
            {"offset":0.819,"color":"#fff"},{"offset":0.8205,"color":"#000"},{"offset":0.823,"color":"#000"},{"offset":0.8245,"color":"#fff"},
            {"offset":0.832,"color":"#fff"},{"offset":0.8335,"color":"#000"},{"offset":0.836,"color":"#000"},{"offset":0.8375,"color":"#fff"},
            {"offset":0.845,"color":"#fff"},{"offset":0.8465,"color":"#000"},{"offset":0.849,"color":"#000"},{"offset":0.8505,"color":"#fff"},
            {"offset":0.858,"color":"#fff"},{"offset":0.8595,"color":"#000"},{"offset":0.862,"color":"#000"},{"offset":0.8635,"color":"#fff"},
            {"offset":0.871,"color":"#fff"},{"offset":0.8725,"color":"#000"},{"offset":0.875,"color":"#000"},{"offset":0.8765,"color":"#fff"},
            {"offset":0.884,"color":"#fff"},{"offset":0.8855,"color":"#000"},{"offset":0.888,"color":"#000"},{"offset":0.8895,"color":"#fff"},
            {"offset":0.897,"color":"#fff"},{"offset":0.8985,"color":"#000"},{"offset":0.901,"color":"#000"},{"offset":0.9025,"color":"#fff"},
            {"offset":0.91,"color":"#fff"},{"offset":0.9115,"color":"#000"},{"offset":0.914,"color":"#000"},{"offset":0.9155,"color":"#fff"},
            {"offset":0.923,"color":"#fff"},{"offset":0.9245,"color":"#000"},{"offset":0.927,"color":"#000"},{"offset":0.9285,"color":"#fff"},
            {"offset":0.936,"color":"#fff"},{"offset":0.9375,"color":"#000"},{"offset":0.94,"color":"#000"},{"offset":0.9415,"color":"#fff"},
            {"offset":0.949,"color":"#fff"},{"offset":0.9505,"color":"#000"},{"offset":0.953,"color":"#000"},{"offset":0.9545,"color":"#fff"},
            {"offset":0.962,"color":"#fff"},{"offset":0.9635,"color":"#000"},{"offset":0.966,"color":"#000"},{"offset":0.9675,"color":"#fff"},
            {"offset":0.975,"color":"#fff"},{"offset":0.9765,"color":"#000"},{"offset":0.979,"color":"#000"},{"offset":0.9805,"color":"#fff"},
            {"offset":0.988,"color":"#fff"},{"offset":0.9895,"color":"#000"},{"offset":0.992,"color":"#000"},{"offset":0.9935,"color":"#fff"},
            {"offset":1,"color":"#fff"}
          ]}},
         "encoding": {"x": {"datum": -15, "scale": {"domain": [-15, 60], "nice": false}}, "x2": {"datum": 60},
                      "y": {"datum": 0, "scale": {"domain": [0, 529], "nice": false}}, "y2": {"datum": 529}}},
        {"data": {"name": "bkgR"}, "mark": {"type": "area", "fill": "white", "interpolate": "monotone"},
         "encoding": {"x": {"field": "e", "type": "quantitative", "scale": {"domain": [-15, 60], "nice": false}},
                      "y": {"field": "b", "type": "quantitative", "scale": {"domain": [0, 529], "nice": false}}, "y2": {"datum": 529}}},
        {"data": {"name": "bkgR"}, "mark": {"type": "line", "color": "#444", "strokeWidth": 1.4, "interpolate": "monotone"},
         "encoding": {"x": {"field": "e", "type": "quantitative", "scale": {"domain": [-15, 60], "nice": false}},
                      "y": {"field": "b", "type": "quantitative", "scale": {"domain": [0, 529], "nice": false}}}},
        {"data": {"name": "fitR"}, "mark": {"type": "line", "color": "#111", "strokeWidth": 1.6, "interpolate": "monotone"},
         "encoding": {"x": {"field": "e", "type": "quantitative", "scale": {"domain": [-15, 60], "nice": false}},
                      "y": {"field": "t", "type": "quantitative", "scale": {"domain": [0, 529], "nice": false}}}},
        {"data": {"name": "ptsR"}, "mark": {"type": "errorbar", "ticks": true, "color": "#000", "thickness": 1.5},
         "encoding": {"x": {"field": "e", "type": "quantitative", "title": "ΔE (MeV)", "scale": {"domain": [-15, 60], "nice": false}},
                      "y": {"field": "lo", "type": "quantitative", "title": "Events / 2 MeV", "scale": {"domain": [0, 529], "nice": false}}, "y2": {"field": "hi"}}},
        {"data": {"name": "ptsR"}, "mark": {"type": "errorbar", "ticks": true, "color": "#000", "thickness": 1.5},
         "encoding": {"y": {"field": "n", "type": "quantitative", "title": "Events / 2 MeV", "scale": {"domain": [0, 529], "nice": false}},
                      "x": {"field": "e0", "type": "quantitative", "title": "ΔE (MeV)", "scale": {"domain": [-15, 60], "nice": false}}, "x2": {"field": "e1"}}},
        {"data": {"name": "ptsR"}, "mark": {"type": "point", "filled": true, "color": "#000", "size": 30, "opacity": 1},
         "encoding": {
           "x": {"field": "e", "type": "quantitative", "scale": {"domain": [-15, 60], "nice": false},
                 "axis": {"values": [0, 50], "format": "d", "tickSize": -9, "labelPadding": 18, "title": "ΔE (MeV)", "titleX": 163, "titleY": 67, "titleAlign": "center", "titleBaseline": "alphabetic"}},
           "y": {"field": "n", "type": "quantitative", "scale": {"domain": [0, 529], "nice": false},
                 "axis": {"values": [0, 100, 200, 300, 400, 500], "format": "d",
                          "labelExpr": "datum.value % 200 === 0 ? datum.label : ''",
                          "tickSize": {"condition": {"test": "datum.value % 200 === 0", "value": -11}, "value": -6},
                          "labelPadding": 20, "title": "Events / 2 MeV", "titleX": -73, "titleY": 160, "titleAlign": "center", "titleBaseline": "alphabetic"}}}},
        {"data": {"values": [{}]}, "mark": {"type": "rule", "color": "#111", "strokeWidth": 2},
         "encoding": {"y": {"datum": 529, "scale": {"domain": [0, 529], "nice": false}}}},
        {"data": {"values": [{}]}, "mark": {"type": "rule", "color": "#111", "strokeWidth": 2},
         "encoding": {"y": {"datum": 0, "scale": {"domain": [0, 529], "nice": false}}}},
        {"data": {"values": [{}]}, "mark": {"type": "rule", "color": "#111", "strokeWidth": 2},
         "encoding": {"x": {"datum": -15, "scale": {"domain": [-15, 60], "nice": false}}}},
        {"data": {"values": [{}]}, "mark": {"type": "rule", "color": "#111", "strokeWidth": 2},
         "encoding": {"x": {"datum": 60, "scale": {"domain": [-15, 60], "nice": false}}}},
        {"data": {"values": [{}]}, "mark": {"type": "text", "text": "b)", "fontSize": 27, "align": "left", "baseline": "alphabetic"},
         "encoding": {"x": {"datum": -11.54, "scale": {"domain": [-15, 60], "nice": false}}, "y": {"datum": 461, "scale": {"domain": [0, 529], "nice": false}}}},
        {"data": {"values": [{}]}, "mark": {"type": "text", "text": "B", "fontSize": 28, "align": "left", "baseline": "alphabetic"},
         "encoding": {"x": {"datum": 18.3, "scale": {"domain": [-15, 60], "nice": false}}, "y": {"datum": 321.9, "scale": {"domain": [0, 529], "nice": false}}}},
        {"data": {"values": [{}]}, "mark": {"type": "text", "text": "0", "fontSize": 19, "align": "left", "baseline": "alphabetic"},
         "encoding": {"x": {"datum": 22.92, "scale": {"domain": [-15, 60], "nice": false}}, "y": {"datum": 331, "scale": {"domain": [0, 529], "nice": false}}}},
        {"data": {"values": [{}]}, "mark": {"type": "text", "text": "→", "fontSize": 33, "align": "left", "baseline": "alphabetic"},
         "encoding": {"x": {"datum": 24.0, "scale": {"domain": [-15, 60], "nice": false}}, "y": {"datum": 321.9, "scale": {"domain": [0, 529], "nice": false}}}},
        {"data": {"values": [{}]}, "mark": {"type": "text", "text": "J/", "fontSize": 28, "align": "left", "baseline": "alphabetic"},
         "encoding": {"x": {"datum": 32.31, "scale": {"domain": [-15, 60], "nice": false}}, "y": {"datum": 321.9, "scale": {"domain": [0, 529], "nice": false}}}},
        {"data": {"values": [{}]}, "mark": {"type": "text", "text": "ψ", "font": "DejaVu Serif", "fontSize": 31, "align": "left", "baseline": "alphabetic"},
         "encoding": {"x": {"datum": 37.38, "scale": {"domain": [-15, 60], "nice": false}}, "y": {"datum": 321.9, "scale": {"domain": [0, 529], "nice": false}}}},
        {"data": {"values": [{}]}, "mark": {"type": "text", "text": "K", "fontSize": 28, "align": "left", "baseline": "alphabetic"},
         "encoding": {"x": {"datum": 42.92, "scale": {"domain": [-15, 60], "nice": false}}, "y": {"datum": 321.9, "scale": {"domain": [0, 529], "nice": false}}}},
        {"data": {"values": [{}]}, "mark": {"type": "text", "text": "L", "fontSize": 19, "align": "left", "baseline": "alphabetic"},
         "encoding": {"x": {"datum": 47.88, "scale": {"domain": [-15, 60], "nice": false}}, "y": {"datum": 305.3, "scale": {"domain": [0, 529], "nice": false}}}},
        {"data": {"values": [{}]}, "mark": {"type": "text", "text": "K", "font": "Liberation Sans", "fontSize": 52, "color": "#ff0000", "align": "left", "baseline": "alphabetic"},
         "encoding": {"x": {"datum": 39.0, "scale": {"domain": [-15, 60], "nice": false}}, "y": {"datum": 437.6, "scale": {"domain": [0, 529], "nice": false}}}},
        {"data": {"values": [{}]}, "mark": {"type": "text", "text": "L", "font": "Liberation Sans", "fontSize": 45, "color": "#ff0000", "align": "left", "baseline": "alphabetic"},
         "encoding": {"x": {"datum": 47.5, "scale": {"domain": [-15, 60], "nice": false}}, "y": {"datum": 415.4, "scale": {"domain": [0, 529], "nice": false}}}}
      ]
    }
  ]
}
